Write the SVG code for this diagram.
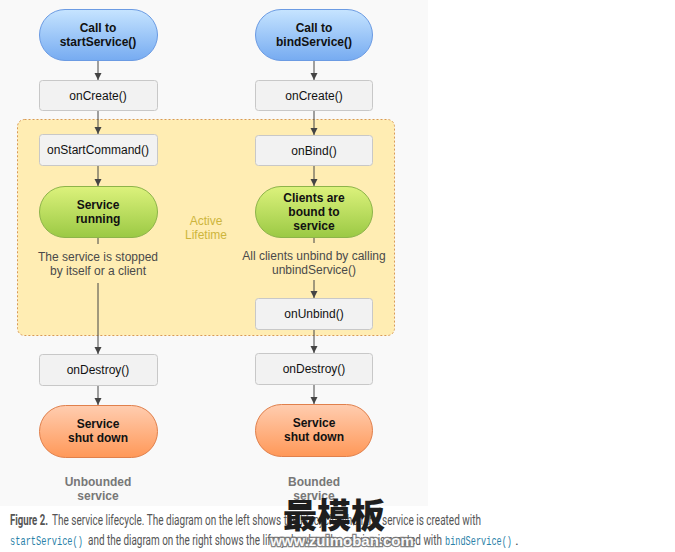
<svg xmlns="http://www.w3.org/2000/svg" width="675" height="552" viewBox="0 0 675 552">
  <defs>
    <linearGradient id="gBlue" x1="0" y1="0" x2="0" y2="1">
      <stop offset="0" stop-color="#c6e4ff"/>
      <stop offset="1" stop-color="#76abf1"/>
    </linearGradient>
    <linearGradient id="gGreen" x1="0" y1="0" x2="0" y2="1">
      <stop offset="0" stop-color="#dcf27c"/>
      <stop offset="1" stop-color="#9bc944"/>
    </linearGradient>
    <linearGradient id="gOrange" x1="0" y1="0" x2="0" y2="1">
      <stop offset="0" stop-color="#ffcdb0"/>
      <stop offset="1" stop-color="#ff9858"/>
    </linearGradient>
    <marker id="arr" viewBox="0 0 10 10" refX="10" refY="5" markerWidth="7" markerHeight="8" markerUnits="userSpaceOnUse" orient="auto">
      <path d="M0,0 L10,5 L0,10 z" fill="#444"/>
    </marker>
    <style>
      .box { fill: #f2f2f2; stroke: #c8c8c8; stroke-width: 1; }
      .blue { fill: url(#gBlue); stroke: #6b9be3; stroke-width: 1; }
      .green { fill: url(#gGreen); stroke: #8db44a; stroke-width: 1; }
      .orange { fill: url(#gOrange); stroke: #e0804c; stroke-width: 1; }
      .t { font-family: "Liberation Sans", Arial, sans-serif; font-size: 12px; fill: #111; text-anchor: middle; }
      .b { font-weight: bold; }
      .note { font-family: "Liberation Sans", Arial, sans-serif; font-size: 12px; fill: #4a4a4a; text-anchor: middle; }
      .lbl { font-family: "Liberation Sans", Arial, sans-serif; font-size: 12px; font-weight: bold; fill: #777; text-anchor: middle; }
      .act { font-family: "Liberation Sans", Arial, sans-serif; font-size: 12px; fill: #cdb53c; text-anchor: middle; }
      .con { stroke: #444; stroke-width: 1; fill: none; }
      .cap { font-family: Roboto, "Liberation Sans", sans-serif; font-size: 14.5px; fill: #555; }
      .code { font-family: "Liberation Mono", "DejaVu Sans Mono", monospace; font-size: 13.5px; fill: #2a7fa8; }
    </style>
  </defs>

  <rect x="0" y="0" width="675" height="552" fill="#ffffff"/>
  <rect x="0" y="0" width="428" height="506" fill="#f9f9f9"/>

  <g id="active-lifetime">
    <rect x="17.5" y="119.5" width="377" height="216" rx="7" fill="#ffedb3" stroke="#d99a55" stroke-width="1" stroke-dasharray="2,2"/>
    <text class="act" x="206" y="225">Active</text>
    <text class="act" x="206" y="239">Lifetime</text>
  </g>

  <g id="connectors">
    <line class="con" x1="98" y1="60" x2="98" y2="80" marker-end="url(#arr)"/>
    <line class="con" x1="98" y1="110" x2="98" y2="134" marker-end="url(#arr)"/>
    <line class="con" x1="98" y1="165" x2="98" y2="186" marker-end="url(#arr)"/>
    <line class="con" x1="98" y1="237" x2="98" y2="244"/>
    <line class="con" x1="98" y1="283" x2="98" y2="354" marker-end="url(#arr)"/>
    <line class="con" x1="98" y1="385" x2="98" y2="405" marker-end="url(#arr)"/>

    <line class="con" x1="314" y1="60" x2="314" y2="80" marker-end="url(#arr)"/>
    <line class="con" x1="314" y1="110" x2="314" y2="135" marker-end="url(#arr)"/>
    <line class="con" x1="314" y1="165" x2="314" y2="186" marker-end="url(#arr)"/>
    <line class="con" x1="314" y1="237" x2="314" y2="243"/>
    <line class="con" x1="314" y1="280" x2="314" y2="298" marker-end="url(#arr)"/>
    <line class="con" x1="314" y1="329" x2="314" y2="353" marker-end="url(#arr)"/>
    <line class="con" x1="314" y1="384" x2="314" y2="404" marker-end="url(#arr)"/>
  </g>

  <g id="call-startService">
    <rect class="blue" x="39.5" y="9.5" width="118" height="51" rx="25.5"/>
    <text class="t b" x="98" y="32">Call to</text>
    <text class="t b" x="98" y="46">startService()</text>
  </g>
  <g id="onCreate-left">
    <rect class="box" x="39.5" y="80.5" width="118" height="30" rx="3"/>
    <text class="t" x="98" y="100">onCreate()</text>
  </g>
  <g id="onStartCommand">
    <rect class="box" x="39.5" y="134.5" width="118" height="31" rx="3"/>
    <text class="t" x="98" y="154" textLength="102" lengthAdjust="spacingAndGlyphs">onStartCommand()</text>
  </g>
  <g id="service-running">
    <rect class="green" x="39.5" y="186.5" width="118" height="51" rx="25.5"/>
    <text class="t b" x="98" y="209">Service</text>
    <text class="t b" x="98" y="223">running</text>
  </g>
  <g id="note-left">
    <text class="note" x="98" y="261">The service is stopped</text>
    <text class="note" x="98" y="275">by itself or a client</text>
  </g>
  <g id="onDestroy-left">
    <rect class="box" x="39.5" y="354.5" width="118" height="31" rx="3"/>
    <text class="t" x="98" y="374">onDestroy()</text>
  </g>
  <g id="shutdown-left">
    <rect class="orange" x="39.5" y="405.5" width="118" height="52" rx="26"/>
    <text class="t b" x="98" y="428">Service</text>
    <text class="t b" x="98" y="442">shut down</text>
  </g>
  <g id="label-unbounded">
    <text class="lbl" x="98" y="486">Unbounded</text>
    <text class="lbl" x="98" y="500">service</text>
  </g>

  <g id="call-bindService">
    <rect class="blue" x="255.5" y="9.5" width="117" height="51" rx="25.5"/>
    <text class="t b" x="314" y="32">Call to</text>
    <text class="t b" x="314" y="46">bindService()</text>
  </g>
  <g id="onCreate-right">
    <rect class="box" x="255.5" y="80.5" width="117" height="30" rx="3"/>
    <text class="t" x="314" y="100">onCreate()</text>
  </g>
  <g id="onBind">
    <rect class="box" x="255.5" y="135.5" width="117" height="30" rx="3"/>
    <text class="t" x="314" y="155">onBind()</text>
  </g>
  <g id="clients-bound">
    <rect class="green" x="255.5" y="186.5" width="117" height="51" rx="25.5"/>
    <text class="t b" x="314" y="202">Clients are</text>
    <text class="t b" x="314" y="216">bound to</text>
    <text class="t b" x="314" y="230">service</text>
  </g>
  <g id="note-right">
    <text class="note" x="314" y="260">All clients unbind by calling</text>
    <text class="note" x="314" y="274">unbindService()</text>
  </g>
  <g id="onUnbind">
    <rect class="box" x="255.5" y="298.5" width="117" height="31" rx="3"/>
    <text class="t" x="314" y="318">onUnbind()</text>
  </g>
  <g id="onDestroy-right">
    <rect class="box" x="255.5" y="353.5" width="117" height="31" rx="3"/>
    <text class="t" x="314" y="373">onDestroy()</text>
  </g>
  <g id="shutdown-right">
    <rect class="orange" x="255.5" y="404.5" width="117" height="52" rx="26"/>
    <text class="t b" x="314" y="427">Service</text>
    <text class="t b" x="314" y="441">shut down</text>
  </g>
  <g id="label-bounded">
    <text class="lbl" x="314" y="486">Bounded</text>
    <text class="lbl" x="314" y="500">service</text>
  </g>

  <g id="caption">
    <text class="cap" x="10" y="525" font-weight="bold" fill="#333" textLength="38" lengthAdjust="spacingAndGlyphs">Figure 2.</text>
    <text class="cap" x="52" y="525" textLength="429" lengthAdjust="spacingAndGlyphs">The service lifecycle. The diagram on the left shows the lifecycle when the service is created with</text>
    <text class="code" x="10" y="545" textLength="73" lengthAdjust="spacingAndGlyphs">startService()</text>
    <text class="cap" x="88" y="545" textLength="354" lengthAdjust="spacingAndGlyphs">and the diagram on the right shows the lifecycle when the service is created with</text>
    <text class="code" x="445" y="545" textLength="67" lengthAdjust="spacingAndGlyphs">bindService()</text>
    <text class="cap" x="515" y="545">.</text>
  </g>

  <g id="watermark">
    <text x="334" y="528" text-anchor="middle" font-family="'Noto Sans CJK SC', sans-serif" font-size="34" font-weight="900" fill="#1e1e1e">最模板</text>
    <text x="342" y="546" text-anchor="middle" font-family="'Liberation Sans', sans-serif" font-size="15" font-weight="bold" fill="#ffffff" stroke="#777" stroke-width="2.5" paint-order="stroke" opacity="0.9">www.zuimoban.com</text>
  </g>
</svg>
